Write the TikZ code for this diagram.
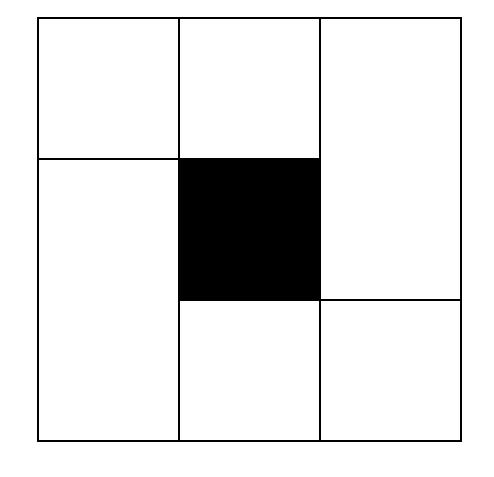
\documentclass[tikz,border=0pt]{standalone}
\begin{document}
\begin{tikzpicture}[x=0.02cm, y=-0.02cm, line width=0.04cm]
    \useasboundingbox (0,0) rectangle (494,477);
    % Grid points
    \coordinate (tl) at (38,18);
    \coordinate (br) at (461,441);
    % Black centre square
    \fill[black] (179,159) rectangle (320,300);
    % Outer square
    \draw (tl) rectangle (br);
    % Inner lines
    \draw (179,18) -- (179,441);
    \draw (320,18) -- (320,441);
    \draw (38,159) -- (320,159);
    \draw (179,300) -- (461,300);
\end{tikzpicture}
\end{document}
